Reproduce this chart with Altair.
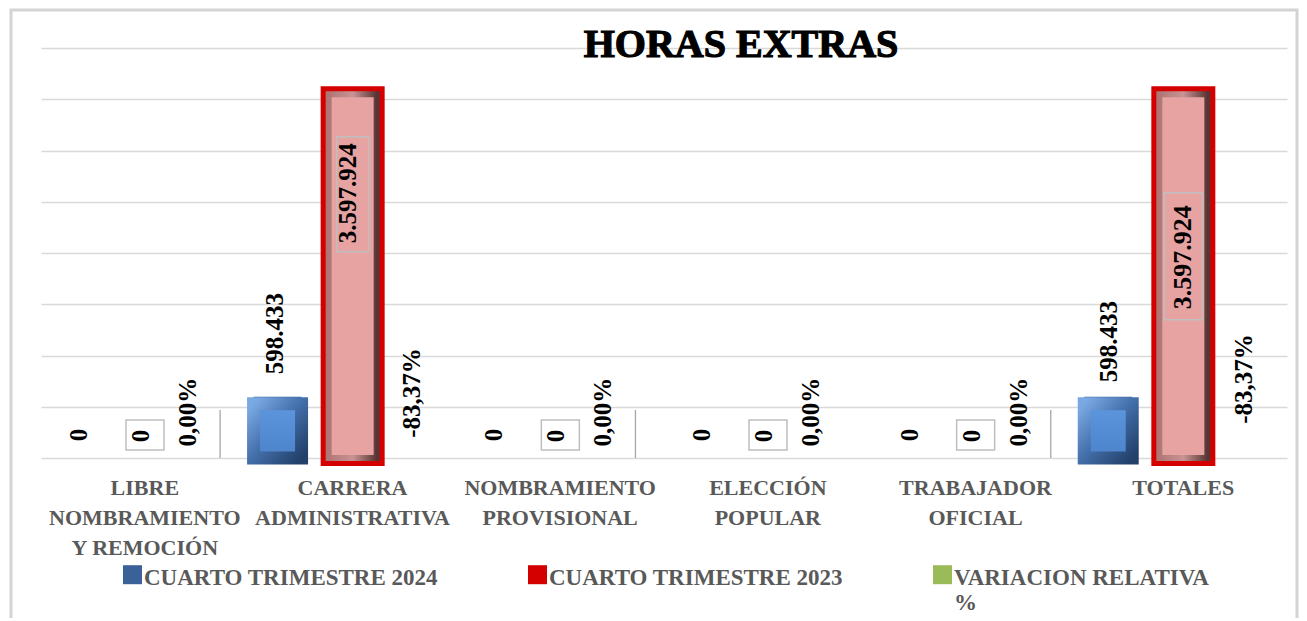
import altair as alt
import pandas as pd

# ---------------- data ----------------
categories = ["LIBRE NOMBRAMIENTO Y REMOCIÓN", "CARRERA ADMINISTRATIVA",
              "NOMBRAMIENTO PROVISIONAL", "ELECCIÓN POPULAR",
              "TRABAJADOR OFICIAL", "TOTALES"]
category_lines = [["LIBRE", "NOMBRAMIENTO", "Y REMOCIÓN"],
                  ["CARRERA", "ADMINISTRATIVA"],
                  ["NOMBRAMIENTO", "PROVISIONAL"],
                  ["ELECCIÓN", "POPULAR"],
                  ["TRABAJADOR", "OFICIAL"],
                  ["TOTALES"]]
series_names = ["CUARTO TRIMESTRE 2024", "CUARTO TRIMESTRE 2023", "VARIACION RELATIVA %"]
q4_2024 = [0, 598433, 0, 0, 0, 598433]
q4_2023 = [0, 3597924, 0, 0, 0, 3597924]
variacion = [0.0, -0.8337, 0.0, 0.0, 0.0, -0.8337]
y_ticks = [0, 500000, 1000000, 1500000, 2000000, 2500000, 3000000, 3500000, 4000000]
title_text = "HORAS EXTRAS"


def fmt_int(v):
    return f"{v:,.0f}".replace(",", ".")


def fmt_pct(v):
    return f"{v * 100:.2f}%".replace(".", ",")


rows = []
for i, c in enumerate(categories):
    rows.append({"cat": c, "series": series_names[0], "value": q4_2024[i], "label": fmt_int(q4_2024[i])})
    rows.append({"cat": c, "series": series_names[1], "value": q4_2023[i], "label": fmt_int(q4_2023[i])})
    rows.append({"cat": c, "series": series_names[2], "value": variacion[i], "label": fmt_pct(variacion[i])})
df = pd.DataFrame(rows)

S0, S1, S2 = series_names
FONT = "Liberation Serif"

label_map = "{" + ",".join(
    "'" + c + "':[" + ",".join("'" + l + "'" for l in lines) + "]"
    for c, lines in zip(categories, category_lines)) + "}"

x_enc = alt.X("cat:N", sort=categories,
              scale=alt.Scale(domain=categories, paddingInner=0, paddingOuter=0),
              axis=alt.Axis(title=None, ticks=False, domain=False, grid=False,
                            labelAngle=0, labelFont=FONT, labelFontSize=22,
                            labelFontWeight="bold", labelColor="#595959",
                            labelLineHeight=30, labelPadding=19, labelLimit=400,
                            labelBaseline="top",
                            labelExpr=label_map + "[datum.value]"))
xoff_enc = alt.XOffset("series:N", sort=series_names,
                       scale=alt.Scale(domain=series_names, range=[4.9, 203.1],
                                       paddingInner=0.361, paddingOuter=0))
y_enc = alt.Y("value:Q", stack=None,
              scale=alt.Scale(domain=[0, 4000000], nice=False, zero=True),
              axis=alt.Axis(title=None, labels=False, ticks=False, domain=False,
                            grid=True, gridColor="#d9d9d9", gridWidth=1.6,
                            values=y_ticks))

base = alt.Chart(df).encode(x=x_enc, xOffset=xoff_enc, y=y_enc)

legend = alt.Legend(title=None, orient="none", legendX=80, legendY=518,
                    direction="horizontal", columns=3, gridAlign="all",
                    columnPadding=88, symbolType="M-1,-1.32H1V0.68H-1Z", symbolSize=361,
                    symbolStrokeWidth=0, labelFont=FONT, labelFontSize=23,
                    labelFontWeight="bold", labelColor="#595959", labelOffset=0,
                    labelLimit=400, labelBaseline="middle",
                    padding=0,
                    labelExpr="datum.label == '" + S2 + "' ? ['VARIACION RELATIVA', '%'] : [datum.label, ' ']")

main = base.mark_bar().encode(
    color=alt.Color("series:N", sort=series_names,
                    scale=alt.Scale(domain=series_names, range=["#3a6198", "#d40000", "#9bbb59"]),
                    legend=legend))

f_blue = f"datum.series == '{S0}' && datum.value > 0"
f_red = f"datum.series == '{S1}' && datum.value > 0"


def grad(stops, x1=0, y1=0, x2=1, y2=0):
    return {"gradient": "linear", "x1": x1, "y1": y1, "x2": x2, "y2": y2,
            "stops": [{"offset": o, "color": c} for o, c in stops]}


blue_bar = base.transform_filter(f_blue).mark_bar(
    fill=grad([(0, "#5d97de"), (1, "#4c83ca")], 0, 0, 0, 1),
    stroke=grad([(0, "#7aa8e2"), (0.45, "#4672ae"), (1, "#22406a")], 0, 0, 1, 1),
    strokeWidth=13, strokeJoin="miter", yOffset=7, y2Offset=-7)

red_outer = base.transform_filter(f_red).mark_bar(
    fill="#d40000", stroke="#d40000", strokeWidth=16, strokeJoin="miter",
    yOffset=5, y2Offset=-7)
red_inner = base.transform_filter(f_red).mark_bar(
    fill="#e7a2a2",
    stroke=grad([(0, "#b07676"), (0.5, "#c99494"), (1, "#5a3434")]),
    strokeWidth=6, strokeJoin="miter", yOffset=5, y2Offset=-7)


def label_layer(expr, dx, dy, size=25):
    return base.transform_filter(expr).mark_text(
        angle=270, align="center", baseline="middle", dx=dx, dy=dy,
        font=FONT, fontSize=size, fontWeight="bold", color="black"
    ).encode(text="label:N")


def box_layer(expr, path, size, yoff):
    return base.transform_filter(expr).mark_point(
        shape=path, size=size, filled=False, stroke="#bfbfbf", strokeWidth=1.5,
        opacity=1, yOffset=yoff)


C1, C5 = categories[1], categories[5]
labels = [
    label_layer(f"datum.series == '{S0}' && datum.value == 0", 23, 9),
    label_layer(f"datum.series == '{S0}' && datum.cat == '{C1}'", 63, -3),
    label_layer(f"datum.series == '{S0}' && datum.cat == '{C5}'", 55, 1),
    label_layer(f"datum.series == '{S1}' && datum.value == 0", 22, -4),
    label_layer(f"datum.series == '{S1}' && datum.cat == '{C1}'", -104, -5),
    label_layer(f"datum.series == '{S1}' && datum.cat == '{C5}'", -168, 0, 26),
    label_layer(f"datum.series == '{S2}' && datum.value == 0", 46, -32),
    label_layer(f"datum.series == '{S2}' && datum.cat == '{C1}'", 65, -16),
    label_layer(f"datum.series == '{S2}' && datum.cat == '{C5}'", 79, -14),
]
boxes = [
    box_layer(f"datum.series == '{S1}' && datum.value == 0", "M-1,-0.79H1V0.79H-1Z", 1444, -23),
    box_layer(f"datum.series == '{S1}' && datum.cat == '{C1}'", "M-0.278,-1H0.278V1H-0.278Z", 13225, 105),
    box_layer(f"datum.series == '{S1}' && datum.cat == '{C5}'", "M-0.3,-1H0.3V1H-0.3Z", 16129, 167),
]

leaders = base.transform_filter(
    f"datum.series == '{S2}' && datum.value == 0 && datum.cat != '{categories[3]}'"
).mark_rule(color="#a6a6a6", strokeWidth=1.3, yOffset=-48).encode(y2=alt.Y2("value:Q"))

frame = alt.Chart(alt.Data(values=[{"a": 1}])).mark_rect(
    fillOpacity=0, stroke="#d4d4d4", strokeWidth=3
).encode(x=alt.value(-30), x2=alt.value(1256), y=alt.value(-38), y2=alt.value(580))

title = alt.Chart(alt.Data(values=[{"t": title_text}])).mark_text(
    font=FONT, fontSize=40, fontWeight="bold", color="black", stroke="black",
    strokeWidth=1.2, align="center", baseline="alphabetic"
).encode(text="t:N", x=alt.value(700), y=alt.value(9))

chart = alt.layer(
    frame, main, blue_bar, red_outer, red_inner,
    leaders, *boxes, *labels, title
).properties(
    width=1246, height=410,
    autosize=alt.AutoSizeParams(type="none"),
    padding={"left": 33, "top": 40, "right": 12, "bottom": 160},
).configure(background="white").configure_view(stroke=None)

chart.save("out.html", embed_options={"renderer": "svg", "actions": False})
